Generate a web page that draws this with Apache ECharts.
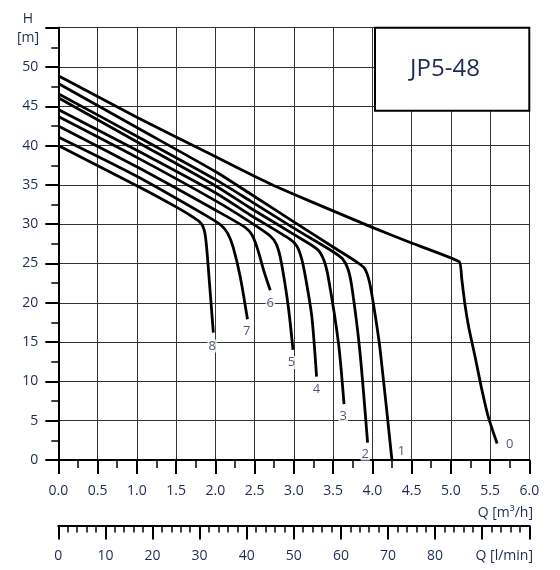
<!DOCTYPE html>
<html>
<head>
<meta charset="utf-8">
<script src="https://cdn.jsdelivr.net/npm/echarts@6/dist/echarts.min.js"></script>
<style>
  html, body { margin: 0; padding: 0; background: #fff; }
  #chart { width: 560px; height: 570px; }
</style>
</head>
<body>
<div id="chart"></div>
<script>
// flow Q [m3/h], head H [m]
var curve0 = [[0,48.9],[1,43.6],[2,38.6],[2.5,36.1],[2.75,34.9],[3,33.8],[3.5,31.7],[4,29.6],[4.5,27.6],[5.11,25.2],[5.14,23.0],[5.18,19.8],[5.23,16.8],[5.31,13.1],[5.39,9.2],[5.48,5.4],[5.59,2.1]];
var curve1 = [[0,47.9],[1,42.3],[2,36.7],[2.44,33.9],[3,30.3],[3.5,27.1],[3.8,25.2],[3.9,24.4],[3.96,22.8],[4.02,19.5],[4.1,14.0],[4.25,0]];
var curve2 = [[0,46.6],[1,41.2],[2,35.7],[2.44,33.0],[3,29.5],[3.5,26.5],[3.62,25.6],[3.69,24.3],[3.74,22.0],[3.84,14.0],[3.94,2.2]];
var curve3 = [[0,46.1],[1,40.5],[2,34.9],[2.44,32.1],[3,28.7],[3.3,26.8],[3.38,25.5],[3.44,23.2],[3.57,14.8],[3.64,7.1]];
var curve4 = [[0,44.6],[1,39.4],[2,34.0],[2.44,31.2],[2.95,28.1],[3.04,27.2],[3.1,25.6],[3.15,23.2],[3.23,18.2],[3.29,10.6]];
var curve5 = [[0,43.7],[1,38.5],[2,33.0],[2.44,30.3],[2.7,28.5],[2.78,27.4],[2.84,25.2],[2.93,19.5],[2.99,14.0]];
var curve6 = [[0,42.5],[1,37.3],[2,31.8],[2.38,29.6],[2.47,28.6],[2.54,26.8],[2.62,24.0],[2.7,21.6]];
var curve7 = [[0,41.1],[1,36.1],[1.9,31.0],[2.07,29.9],[2.16,28.8],[2.23,27.0],[2.32,23.2],[2.41,17.9]];
var curve8 = [[0,40.0],[1,34.9],[1.5,32.2],[1.8,30.3],[1.86,29.2],[1.89,27.0],[1.93,22.0],[1.975,16.2]];
var curves = [curve0, curve1, curve2, curve3, curve4, curve5, curve6, curve7, curve8];

// curve numbers and where they sit
var curveLabels = [[5.75,2.0,'0'],[4.37,1.05,'1'],[3.91,0.76,'2'],[3.63,5.6,'3'],[3.29,9.0,'4'],[2.97,12.4,'5'],[2.70,20.0,'6'],[2.40,16.4,'7'],[1.96,14.5,'8']];

var qMin = 0, qMax = 6, qStep = 0.5;
var hMin = 0, hMax = 55, hStep = 5;
var lminMin = 0, lminMax = 100, lminStep = 10, lminLastLabel = 80;
var title = 'JP5-48';

var txt = '#1d2b53';
var font = 'Open Sans';

var series = curves.map(function (c, i) {
  return {
    type: 'line',
    name: String(i),
    data: c,
    xAxisIndex: 0, yAxisIndex: 0,
    showSymbol: false,
    smooth: i === 0 ? 0.12 : 0.25,
    silent: true,
    lineStyle: { color: '#000', width: 2.8, join: 'round' },
    z: 3
  };
});
series.push({
  type: 'scatter',
  xAxisIndex: 0, yAxisIndex: 0,
  data: curveLabels,
  symbolSize: 0,
  silent: true,
  label: {
    show: true, position: 'inside',
    formatter: function (p) { return p.data[2]; },
    color: txt, fontFamily: font, fontSize: 13,
    backgroundColor: '#fff', padding: [0, 1]
  },
  z: 4
});

var option = {
  animation: false,
  backgroundColor: '#fff',
  grid: [
    { left: 58.3, right: 30.7, top: 27.7, bottom: 110 },
    { left: 58.3, right: 30.7, top: 524.4, height: 1 }
  ],
  xAxis: [{
    gridIndex: 0, type: 'value', position: 'bottom',
    min: qMin, max: qMax, interval: qStep,
    axisLine: { show: true, onZero: false, lineStyle: { color: '#000', width: 2 } },
    axisTick: { show: true, inside: false, length: 14, lineStyle: { color: '#000', width: 2 } },
    minorTick: { show: true, splitNumber: 2, length: 8, lineStyle: { color: '#000', width: 1.5 } },
    axisLabel: { margin: 24, color: txt, fontFamily: font, fontSize: 14,
      formatter: function (v) { return v.toFixed(1); } },
    splitLine: { show: true, lineStyle: { color: '#333', width: 1 } }
  }, {
    gridIndex: 0, type: 'value', position: 'top',
    min: qMin, max: qMax,
    axisLine: { show: true, lineStyle: { color: '#000', width: 2 } },
    axisTick: { show: false }, axisLabel: { show: false }, splitLine: { show: false }
  }, {
    gridIndex: 1, type: 'value', position: 'bottom',
    min: lminMin, max: lminMax, interval: lminStep,
    axisLine: { show: true, lineStyle: { color: '#000', width: 2 } },
    axisTick: { show: true, inside: false, length: 14, lineStyle: { color: '#000', width: 2 } },
    minorTick: { show: true, splitNumber: 5, length: 7, lineStyle: { color: '#000', width: 1.5 } },
    axisLabel: { margin: 24, color: txt, fontFamily: font, fontSize: 14,
      formatter: function (v) { return v > lminLastLabel ? '' : String(v); } },
    splitLine: { show: false }
  }],
  yAxis: [{
    gridIndex: 0, type: 'value', position: 'left',
    min: hMin, max: hMax, interval: hStep,
    axisLine: { show: true, onZero: false, lineStyle: { color: '#000', width: 2 } },
    axisTick: { show: true, inside: false, length: 13, lineStyle: { color: '#000', width: 2 } },
    minorTick: { show: true, splitNumber: 2, length: 7, lineStyle: { color: '#000', width: 1.5 } },
    axisLabel: { margin: 20, color: txt, fontFamily: font, fontSize: 14,
      formatter: function (v) { return v >= hMax ? '' : String(v); } },
    splitLine: { show: true, lineStyle: { color: '#333', width: 1 } }
  }, {
    gridIndex: 0, type: 'value', position: 'right',
    min: hMin, max: hMax,
    axisLine: { show: true, lineStyle: { color: '#000', width: 2 } },
    axisTick: { show: false }, axisLabel: { show: false }, splitLine: { show: false }
  }, {
    gridIndex: 1, type: 'value', show: false, min: 0, max: 1
  }],
  graphic: [
    { type: 'rect', z: 10, shape: { x: 375, y: 27.7, width: 154.3, height: 83 },
      style: { fill: '#fff', stroke: '#000', lineWidth: 2 } },
    { type: 'text', z: 11, x: 445, y: 69,
      style: { text: title, fill: txt, font: '24px "Open Sans"', textAlign: 'center', textVerticalAlign: 'middle' } },
    { type: 'text', x: 28, y: 19,
      style: { text: 'H', fill: txt, font: '14px "Open Sans"', textAlign: 'center', textVerticalAlign: 'middle' } },
    { type: 'text', x: 28, y: 38,
      style: { text: '[m]', fill: txt, font: '14px "Open Sans"', textAlign: 'center', textVerticalAlign: 'middle' } },
    { type: 'text', x: 533, y: 513,
      style: { text: 'Q [m³/h]', fill: txt, font: '14px "Open Sans"', textAlign: 'right', textVerticalAlign: 'middle' } },
    { type: 'text', x: 533, y: 556,
      style: { text: 'Q [l/min]', fill: txt, font: '14px "Open Sans"', textAlign: 'right', textVerticalAlign: 'middle' } }
  ],
  series: series
};

var chart = echarts.init(document.getElementById('chart'), null, { renderer: 'canvas' });
chart.setOption(option, true);
</script>
</body>
</html>
